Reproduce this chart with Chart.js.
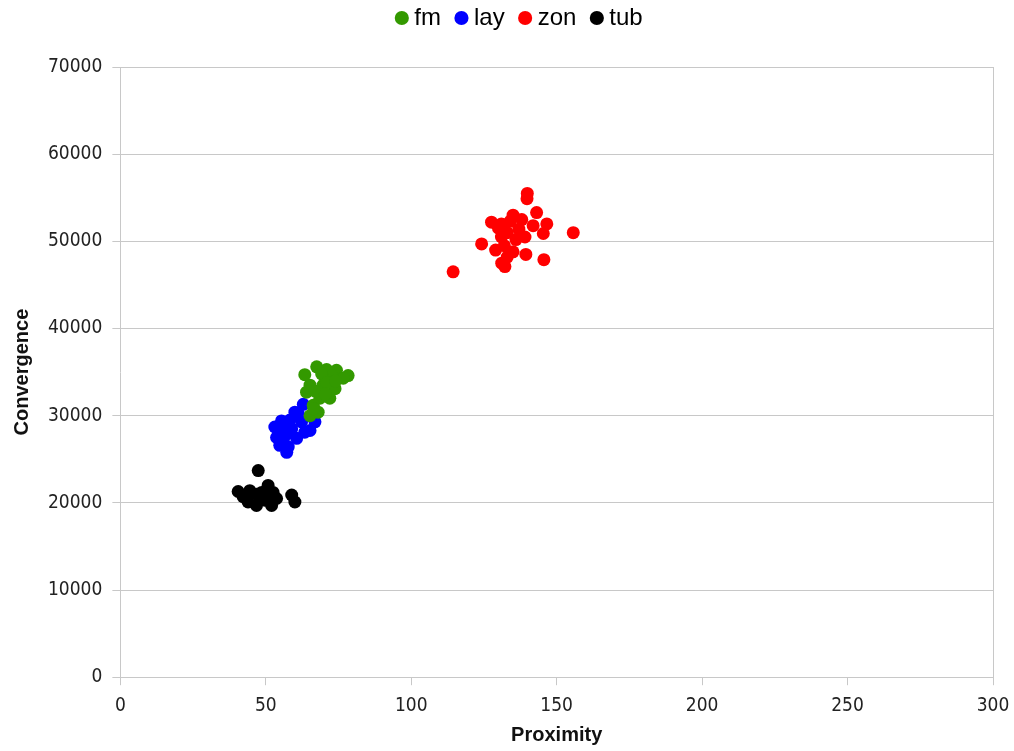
<!DOCTYPE html>
<html>
<head>
<meta charset="utf-8">
<script src="https://cdn.jsdelivr.net/npm/chart.js@4.4.0/dist/chart.umd.min.js"></script>
<style>
  html, body { margin: 0; padding: 0; background: #ffffff; }
  #wrap { width: 1014px; height: 751px; }
</style>
</head>
<body>
<div id="wrap"><canvas id="c" width="1014" height="751"></canvas></div>
<script>
// Proximity (x) and Convergence (y) per group
const fmX = [63.4, 67.5, 70.9, 74.3, 78.3, 76.6, 72.6, 69.2, 65.2, 69.7, 73.8, 72.0, 68.6, 66.3, 65.2, 68.0, 64.0, 71.0, 67.0, 70.5, 74.0, 66.5];
const fmY = [34700, 35600, 35300, 35200, 34600, 34300, 34600, 34800, 33500, 33500, 33100, 32000, 32000, 31200, 30000, 30400, 32700, 33800, 32800, 32500, 34000, 30800];

const layX = [62.9, 61.1, 55.4, 53.1, 53.7, 56.0, 57.7, 57.2, 58.9, 62.3, 65.2, 66.9, 63.4, 60.6, 57.2, 54.8, 58.3, 60.0, 55.0, 56.5];
const layY = [31300, 30300, 29400, 28700, 27500, 27200, 26400, 27900, 28500, 29300, 28300, 29300, 28100, 27400, 25800, 26600, 29500, 30400, 28000, 29000];

const zonX = [114.4, 155.7, 139.9, 139.8, 143.1, 146.6, 145.4, 127.6, 124.2, 145.6, 139.4, 131.1, 132.2, 139.1, 135.0, 141.9, 130.0, 131.0, 132.0, 133.0, 134.0, 136.0, 137.0, 129.0, 135.0, 138.0, 131.0, 133.0];
const zonY = [46500, 51000, 55500, 54900, 53300, 52000, 50900, 52200, 49700, 47900, 48500, 47500, 47100, 50500, 53000, 51800, 51500, 50500, 49500, 51000, 52300, 50200, 51400, 49000, 48800, 52500, 52000, 48200];

const tubX = [47.4, 40.5, 42.2, 44.5, 46.8, 50.8, 52.5, 53.7, 58.9, 60.0, 43.9, 46.8, 49.7, 52.0, 48.6];
const tubY = [23700, 21300, 20700, 21400, 21000, 22000, 21200, 20500, 20900, 20100, 20100, 19700, 20300, 19700, 21200];

const seriesNames = ['fm', 'lay', 'zon', 'tub'];
const seriesColors = ['#339900', '#0000ff', '#ff0000', '#000000'];
const xTicks = [0, 50, 100, 150, 200, 250, 300];
const yTicks = [0, 10000, 20000, 30000, 40000, 50000, 60000, 70000];

function pairs(xs, ys) { return xs.map((x, i) => ({ x: x, y: ys[i] })); }
const seriesData = [pairs(fmX, fmY), pairs(layX, layY), pairs(zonX, zonY), pairs(tubX, tubY)];

const tickFont = { family: "'DejaVu Sans Condensed', 'Liberation Sans Narrow', 'DejaVu Sans', sans-serif", size: 19 };
const titleFont = { family: "'Liberation Sans', Arial, sans-serif", size: 20, weight: 'bold' };
const gridGray = '#c8c8c8';

// Leaves extra room under the legend row and nudges the row to the right
const legendPlacement = {
  id: 'legendPlacement',
  beforeInit(chart) {
    const fit = chart.legend.fit;
    chart.legend.fit = function () {
      fit.call(this);
      this.height += 27;
    };
  },
  afterLayout(chart) {
    chart.legend.left += 16;
    chart.legend.right += 16;
  }
};

new Chart(document.getElementById('c'), {
  type: 'scatter',
  data: {
    datasets: seriesNames.map((name, i) => ({
      label: name,
      data: seriesData[i],
      backgroundColor: seriesColors[i],
      borderColor: seriesColors[i],
      pointRadius: 6.5,
      pointHoverRadius: 6.5,
      pointBorderWidth: 0,
      pointStyle: 'circle'
    }))
  },
  plugins: [legendPlacement],
  options: {
    responsive: false,
    animation: false,
    layout: { padding: { left: 10, right: 12, top: -14, bottom: 4 } },
    plugins: {
      tooltip: { enabled: false },
      legend: {
        position: 'top',
        labels: {
          usePointStyle: true,
          pointStyle: 'circle',
          boxWidth: 1,
          boxHeight: 10,
          padding: 20,
          color: '#000',
          font: { family: "'Liberation Sans', Arial, sans-serif", size: 24 }
        }
      }
    },
    scales: {
      x: {
        type: 'linear',
        min: 0,
        max: 300,
        afterBuildTicks: (axis) => { axis.ticks = xTicks.map(v => ({ value: v })); },
        afterFit: (axis) => { axis.paddingRight = 21; },
        ticks: { color: '#222', font: tickFont, padding: 9, callback: (v) => String(v) },
        grid: {
          drawOnChartArea: true,
          color: (ctx) => (ctx.tick && ctx.tick.value === 300 ? gridGray : 'rgba(0,0,0,0)'),
          tickColor: gridGray,
          tickLength: 8
        },
        border: { display: true, color: gridGray },
        title: {
          display: true,
          text: 'Proximity',
          color: '#111',
          font: titleFont,
          padding: { top: -3, bottom: 0 }
        }
      },
      y: {
        type: 'linear',
        min: 0,
        max: 70000,
        afterBuildTicks: (axis) => { axis.ticks = yTicks.map(v => ({ value: v })); },
        ticks: { color: '#222', font: tickFont, padding: 10, callback: (v) => String(v) },
        grid: { color: gridGray, tickColor: gridGray, tickLength: 8 },
        border: { display: true, color: gridGray },
        title: {
          display: true,
          text: 'Convergence',
          color: '#111',
          font: titleFont,
          padding: { top: 0, bottom: 4 }
        }
      }
    }
  }
});
</script>
</body>
</html>
